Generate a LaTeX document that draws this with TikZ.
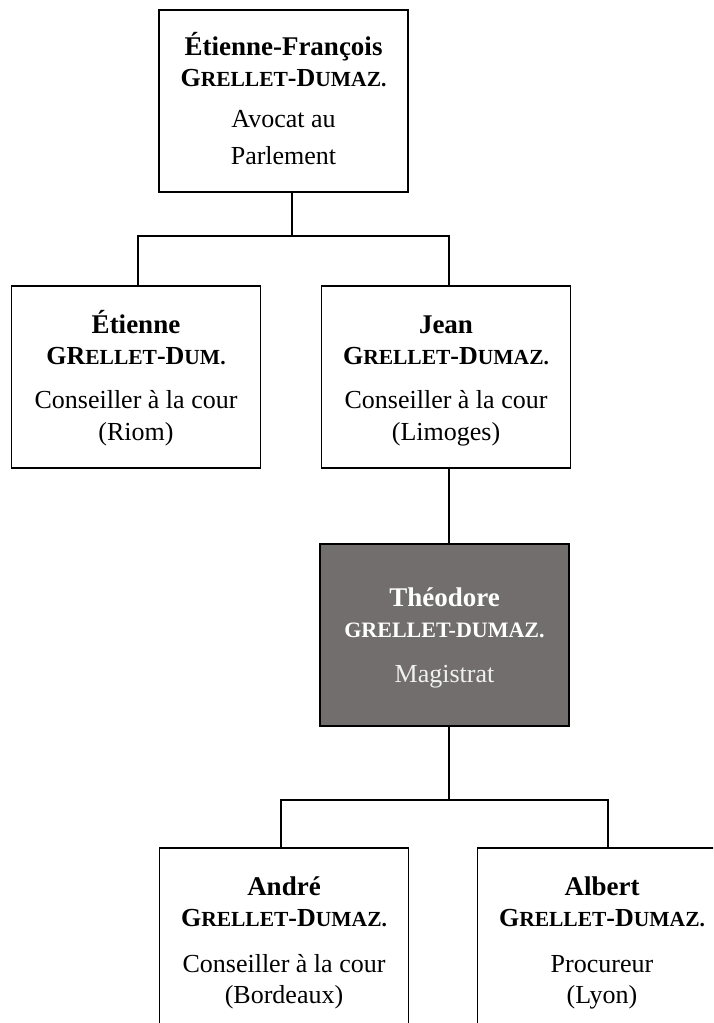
\documentclass[tikz,border=0pt]{standalone}
\usepackage{fontspec}
\setmainfont{Liberation Serif}
\definecolor{theofill}{RGB}{114,110,109}
\definecolor{theotext}{RGB}{240,240,240}
\newcommand{\smc}[1]{{\fontsize{21.5}{31}\selectfont #1}}
\newcommand{\bname}[1]{{\fontsize{27}{31}\selectfont\textbf{#1}}}
\newcommand{\boxtext}[2]{\parbox[c][182pt][t]{249pt}{\centering\fontsize{26}{31}\selectfont\rule{0pt}{#1}#2}}
\tikzset{
  person/.style={draw=black, line width=1.3pt, fill=white, inner sep=0pt, outer sep=0pt},
  mainperson/.style={person, fill=theofill, text=white},
  link/.style={draw=black, line width=1.2pt}
}
\begin{document}
\begin{tikzpicture}[x=1pt, y=-1pt]
\useasboundingbox (0,0) rectangle (713,1023);
\clip (0,0) rectangle (713,1023);

\node[person] (top) at (283.5,101) {\boxtext{45pt}{\bname{Étienne-François}\\
  \textbf{G\smc{RELLET}-D\smc{UMAZ.}}\\[10pt]
  Avocat au\\[6pt] Parlement}};

\node[person] (etienne) at (136,377) {\boxtext{47pt}{\bname{Étienne}\\
  \textbf{GR\smc{ELLET}-D\smc{UM.}}\\[13pt]
  Conseiller à la cour\\[1pt] (Riom)}};

\node[person] (jean) at (446,377) {\boxtext{47pt}{\bname{Jean}\\
  \textbf{G\smc{RELLET}-D\smc{UMAZ.}}\\[13pt]
  Conseiller à la cour\\[1pt] (Limoges)}};

\node[mainperson] (theo) at (444.5,635) {\boxtext{62pt}{\bname{Théodore}\\
  {\fontsize{22}{31}\selectfont\textbf{GRELLET-DUMAZ.}}\\[14pt]
  {\color{theotext}Magistrat}}};

\node[person] (andre) at (284,939) {\boxtext{47pt}{\bname{André}\\
  \textbf{G\smc{RELLET}-D\smc{UMAZ.}}\\[15pt]
  Conseiller à la cour\\[0pt] (Bordeaux)}};

\node[person] (albert) at (602,939) {\boxtext{47pt}{\bname{Albert}\\
  \textbf{G\smc{RELLET}-D\smc{UMAZ.}}\\[15pt]
  Procureur\\[0pt] (Lyon)}};

% branch points
\coordinate (j1) at (292,236);
\coordinate (l1) at (138,236);
\coordinate (r1) at (449,236);
\coordinate (j2) at (449,800);
\coordinate (l2) at (281,800);
\coordinate (r2) at (608,800);

\draw[link] (top.south -| j1) -- (j1);
\draw[link] (etienne.north -| l1) -- (l1) -- (r1) -- (jean.north -| r1);
\draw[link] (jean.south -| r1) -- (theo.north -| r1);
\draw[link] (theo.south -| j2) -- (j2);
\draw[link] (andre.north -| l2) -- (l2) -- (r2) -- (albert.north -| r2);
\end{tikzpicture}
\end{document}
